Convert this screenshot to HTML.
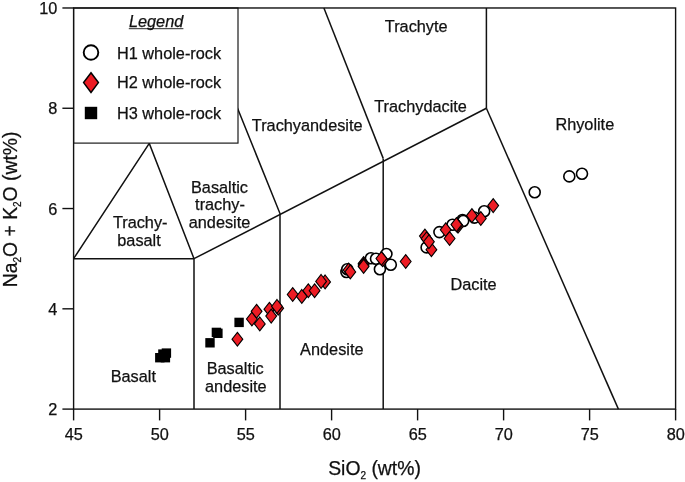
<!DOCTYPE html>
<html><head><meta charset="utf-8"><title>TAS diagram</title>
<style>
html,body{margin:0;padding:0;background:#fff}
svg{display:block}
.t{font-family:"Liberation Sans",Arial,sans-serif;font-size:16.3px;fill:#111;stroke:#111;stroke-width:0.25px}
.ax{font-family:"Liberation Sans",Arial,sans-serif;font-size:19.38px;fill:#111;stroke:#111;stroke-width:0.25px}
.sub{font-size:10px}
</style></head><body>
<svg width="685" height="482" viewBox="0 0 685 482">
<rect width="685" height="482" fill="#fff"/>
<path d="M73.60,258.68 L194.00,258.68 L194.00,409.10" fill="none" stroke="#111" stroke-width="1.5" stroke-linejoin="miter"/>
<path d="M73.60,258.68 L149.28,143.36 L194.00,258.68" fill="none" stroke="#111" stroke-width="1.5" stroke-linejoin="miter"/>
<path d="M194.00,258.68 L486.40,108.26" fill="none" stroke="#111" stroke-width="1.5" stroke-linejoin="miter"/>
<path d="M280.00,409.10 L280.00,213.55 L211.20,43.08" fill="none" stroke="#111" stroke-width="1.5" stroke-linejoin="miter"/>
<path d="M383.20,409.10 L383.20,158.40" fill="none" stroke="#111" stroke-width="1.5" stroke-linejoin="miter"/>
<path d="M383.20,158.40 L323.90,7.98" fill="none" stroke="#111" stroke-width="1.5" stroke-linejoin="miter"/>
<path d="M486.40,7.98 L486.40,108.26" fill="none" stroke="#111" stroke-width="1.5" stroke-linejoin="miter"/>
<path d="M486.40,108.26 L618.40,409.10" fill="none" stroke="#111" stroke-width="1.5" stroke-linejoin="miter"/>
<rect x="73.60" y="8" width="164.40" height="135.10" fill="#fff" stroke="#111" stroke-width="1.15"/>
<rect x="73.60" y="7.98" width="602.00" height="401.12" fill="none" stroke="#111" stroke-width="1.4"/>
<path d="M73.60,409.10 V420.40" stroke="#111" stroke-width="1.4"/>
<text x="73.70" y="439.9" text-anchor="middle" class="t">45</text>
<path d="M159.60,409.10 V420.40" stroke="#111" stroke-width="1.4"/>
<text x="159.70" y="439.9" text-anchor="middle" class="t">50</text>
<path d="M245.60,409.10 V420.40" stroke="#111" stroke-width="1.4"/>
<text x="245.70" y="439.9" text-anchor="middle" class="t">55</text>
<path d="M331.60,409.10 V420.40" stroke="#111" stroke-width="1.4"/>
<text x="331.70" y="439.9" text-anchor="middle" class="t">60</text>
<path d="M417.60,409.10 V420.40" stroke="#111" stroke-width="1.4"/>
<text x="417.70" y="439.9" text-anchor="middle" class="t">65</text>
<path d="M503.60,409.10 V420.40" stroke="#111" stroke-width="1.4"/>
<text x="503.70" y="439.9" text-anchor="middle" class="t">70</text>
<path d="M589.60,409.10 V420.40" stroke="#111" stroke-width="1.4"/>
<text x="589.70" y="439.9" text-anchor="middle" class="t">75</text>
<path d="M675.60,409.10 V420.40" stroke="#111" stroke-width="1.4"/>
<text x="675.70" y="439.9" text-anchor="middle" class="t">80</text>
<path d="M73.60,409.10 H62.40" stroke="#111" stroke-width="1.4"/>
<text x="57.3" y="415.25" text-anchor="end" class="t">2</text>
<path d="M73.60,308.82 H62.40" stroke="#111" stroke-width="1.4"/>
<text x="57.3" y="314.97" text-anchor="end" class="t">4</text>
<path d="M73.60,208.54 H62.40" stroke="#111" stroke-width="1.4"/>
<text x="57.3" y="214.69" text-anchor="end" class="t">6</text>
<path d="M73.60,108.26 H62.40" stroke="#111" stroke-width="1.4"/>
<text x="57.3" y="114.41" text-anchor="end" class="t">8</text>
<path d="M73.60,7.98 H62.40" stroke="#111" stroke-width="1.4"/>
<text x="57.3" y="14.13" text-anchor="end" class="t">10</text>
<text x="416.20" y="32.20" text-anchor="middle" class="t">Trachyte</text>
<text x="420.60" y="111.70" text-anchor="middle" class="t">Trachydacite</text>
<text x="307.20" y="130.70" text-anchor="middle" class="t">Trachyandesite</text>
<text x="584.80" y="129.80" text-anchor="middle" class="t">Rhyolite</text>
<text x="473.60" y="289.60" text-anchor="middle" class="t">Dacite</text>
<text x="331.80" y="355.10" text-anchor="middle" class="t">Andesite</text>
<text x="133.30" y="382.10" text-anchor="middle" class="t">Basalt</text>
<text x="235.20" y="374.40" text-anchor="middle" class="t">Basaltic</text>
<text x="235.80" y="391.90" text-anchor="middle" class="t">andesite</text>
<text x="140.20" y="228.20" text-anchor="middle" class="t">Trachy-</text>
<text x="139.00" y="245.70" text-anchor="middle" class="t">basalt</text>
<text x="219.50" y="192.90" text-anchor="middle" class="t">Basaltic</text>
<text x="220.00" y="210.00" text-anchor="middle" class="t">trachy-</text>
<text x="219.50" y="227.50" text-anchor="middle" class="t">andesite</text>
<text x="156.1" y="26.7" text-anchor="middle" class="t" font-style="italic">Legend</text>
<path d="M128.8,28.7 H183.4" stroke="#111" stroke-width="0.9"/>
<text x="117.00" y="58.50" text-anchor="start" class="t">H1 whole-rock</text>
<text x="117.00" y="88.00" text-anchor="start" class="t">H2 whole-rock</text>
<text x="117.00" y="118.50" text-anchor="start" class="t">H3 whole-rock</text>
<circle cx="91.0" cy="52.5" r="7.3" fill="#fff" stroke="#000" stroke-width="1.9"/>
<path d="M91.0,72.7 L98.4,82.6 L91.0,92.5 L83.6,82.6 Z" fill="#ed1c24" stroke="#000" stroke-width="1.5" stroke-linejoin="miter"/>
<rect x="84.8" y="106.8" width="12.4" height="12.4" fill="#000"/>
<text x="328.2" y="475.0" class="ax">SiO<tspan class="sub" dy="4.4">2</tspan><tspan dy="-4.4"> (wt%)</tspan></text>
<text transform="translate(17,287.3) rotate(-90)" class="ax">Na<tspan class="sub" dy="4.4">2</tspan><tspan dy="-4.4">O + K</tspan><tspan class="sub" dy="4.4">2</tspan><tspan dy="-4.4">O (wt%)</tspan></text>
<rect x="155.1" y="353.0" width="9.4" height="9.4" fill="#000"/>
<rect x="160.7" y="353.0" width="9.4" height="9.4" fill="#000"/>
<rect x="158.2" y="349.4" width="9.4" height="9.4" fill="#000"/>
<rect x="161.7" y="348.4" width="9.4" height="9.4" fill="#000"/>
<rect x="205.3" y="338.1" width="9.4" height="9.4" fill="#000"/>
<rect x="211.7" y="327.7" width="9.4" height="9.4" fill="#000"/>
<rect x="213.2" y="328.6" width="9.4" height="9.4" fill="#000"/>
<rect x="234.4" y="317.7" width="9.4" height="9.4" fill="#000"/>
<circle cx="346.4" cy="272.0" r="5.5" fill="#fff" stroke="#000" stroke-width="1.6"/>
<circle cx="347.3" cy="269.3" r="5.5" fill="#fff" stroke="#000" stroke-width="1.6"/>
<circle cx="370.9" cy="258.3" r="5.5" fill="#fff" stroke="#000" stroke-width="1.6"/>
<circle cx="376.0" cy="258.8" r="5.5" fill="#fff" stroke="#000" stroke-width="1.6"/>
<circle cx="386.4" cy="254.0" r="5.5" fill="#fff" stroke="#000" stroke-width="1.6"/>
<circle cx="379.9" cy="269.2" r="5.5" fill="#fff" stroke="#000" stroke-width="1.6"/>
<circle cx="390.8" cy="264.8" r="5.5" fill="#fff" stroke="#000" stroke-width="1.6"/>
<circle cx="426.6" cy="247.4" r="5.5" fill="#fff" stroke="#000" stroke-width="1.6"/>
<circle cx="439.4" cy="232.1" r="5.5" fill="#fff" stroke="#000" stroke-width="1.6"/>
<circle cx="452.5" cy="224.8" r="5.5" fill="#fff" stroke="#000" stroke-width="1.6"/>
<circle cx="462.5" cy="220.0" r="5.5" fill="#fff" stroke="#000" stroke-width="1.6"/>
<circle cx="463.2" cy="221.0" r="5.5" fill="#fff" stroke="#000" stroke-width="1.6"/>
<circle cx="474.4" cy="217.6" r="5.5" fill="#fff" stroke="#000" stroke-width="1.6"/>
<circle cx="484.2" cy="211.2" r="5.5" fill="#fff" stroke="#000" stroke-width="1.6"/>
<circle cx="534.7" cy="192.2" r="5.5" fill="#fff" stroke="#000" stroke-width="1.6"/>
<circle cx="569.3" cy="176.4" r="5.5" fill="#fff" stroke="#000" stroke-width="1.6"/>
<circle cx="582.0" cy="173.8" r="5.5" fill="#fff" stroke="#000" stroke-width="1.6"/>
<path d="M237.4,332.3 L242.8,339.2 L237.4,346.1 L232.0,339.2 Z" fill="#ed1c24" stroke="#000" stroke-width="1.1" stroke-linejoin="miter"/>
<path d="M251.9,312.1 L257.3,319.0 L251.9,325.9 L246.5,319.0 Z" fill="#ed1c24" stroke="#000" stroke-width="1.1" stroke-linejoin="miter"/>
<path d="M259.8,317.0 L265.2,323.9 L259.8,330.8 L254.4,323.9 Z" fill="#ed1c24" stroke="#000" stroke-width="1.1" stroke-linejoin="miter"/>
<path d="M256.6,304.4 L262.0,311.3 L256.6,318.2 L251.2,311.3 Z" fill="#ed1c24" stroke="#000" stroke-width="1.1" stroke-linejoin="miter"/>
<path d="M269.4,302.3 L274.8,309.2 L269.4,316.1 L264.0,309.2 Z" fill="#ed1c24" stroke="#000" stroke-width="1.1" stroke-linejoin="miter"/>
<path d="M271.2,309.2 L276.6,316.1 L271.2,323.0 L265.8,316.1 Z" fill="#ed1c24" stroke="#000" stroke-width="1.1" stroke-linejoin="miter"/>
<path d="M278.2,301.3 L283.6,308.2 L278.2,315.1 L272.8,308.2 Z" fill="#ed1c24" stroke="#000" stroke-width="1.1" stroke-linejoin="miter"/>
<path d="M277.0,299.5 L282.4,306.4 L277.0,313.3 L271.6,306.4 Z" fill="#ed1c24" stroke="#000" stroke-width="1.1" stroke-linejoin="miter"/>
<path d="M292.7,287.6 L298.1,294.5 L292.7,301.4 L287.3,294.5 Z" fill="#ed1c24" stroke="#000" stroke-width="1.1" stroke-linejoin="miter"/>
<path d="M301.8,289.5 L307.2,296.4 L301.8,303.3 L296.4,296.4 Z" fill="#ed1c24" stroke="#000" stroke-width="1.1" stroke-linejoin="miter"/>
<path d="M308.3,283.8 L313.7,290.7 L308.3,297.6 L302.9,290.7 Z" fill="#ed1c24" stroke="#000" stroke-width="1.1" stroke-linejoin="miter"/>
<path d="M314.6,283.8 L320.0,290.7 L314.6,297.6 L309.2,290.7 Z" fill="#ed1c24" stroke="#000" stroke-width="1.1" stroke-linejoin="miter"/>
<path d="M325.1,275.0 L330.5,281.9 L325.1,288.8 L319.7,281.9 Z" fill="#ed1c24" stroke="#000" stroke-width="1.1" stroke-linejoin="miter"/>
<path d="M321.1,274.5 L326.5,281.4 L321.1,288.3 L315.7,281.4 Z" fill="#ed1c24" stroke="#000" stroke-width="1.1" stroke-linejoin="miter"/>
<path d="M348.6,263.1 L354.0,270.0 L348.6,276.9 L343.2,270.0 Z" fill="#ed1c24" stroke="#000" stroke-width="1.1" stroke-linejoin="miter"/>
<path d="M350.3,265.0 L355.7,271.9 L350.3,278.8 L344.9,271.9 Z" fill="#ed1c24" stroke="#000" stroke-width="1.1" stroke-linejoin="miter"/>
<path d="M363.6,256.7 L369.0,263.6 L363.6,270.5 L358.2,263.6 Z" fill="#ed1c24" stroke="#000" stroke-width="1.1" stroke-linejoin="miter"/>
<path d="M363.6,258.1 L369.0,265.0 L363.6,271.9 L358.2,265.0 Z" fill="#ed1c24" stroke="#000" stroke-width="1.1" stroke-linejoin="miter"/>
<path d="M363.6,259.5 L369.0,266.4 L363.6,273.3 L358.2,266.4 Z" fill="#ed1c24" stroke="#000" stroke-width="1.1" stroke-linejoin="miter"/>
<path d="M382.6,252.9 L388.0,259.8 L382.6,266.7 L377.2,259.8 Z" fill="#ed1c24" stroke="#000" stroke-width="1.1" stroke-linejoin="miter"/>
<path d="M381.4,251.6 L386.8,258.5 L381.4,265.4 L376.0,258.5 Z" fill="#ed1c24" stroke="#000" stroke-width="1.1" stroke-linejoin="miter"/>
<path d="M405.7,254.6 L411.1,261.5 L405.7,268.4 L400.3,261.5 Z" fill="#ed1c24" stroke="#000" stroke-width="1.1" stroke-linejoin="miter"/>
<path d="M431.4,242.8 L436.8,249.7 L431.4,256.6 L426.0,249.7 Z" fill="#ed1c24" stroke="#000" stroke-width="1.1" stroke-linejoin="miter"/>
<path d="M424.9,229.2 L430.3,236.1 L424.9,243.0 L419.5,236.1 Z" fill="#ed1c24" stroke="#000" stroke-width="1.1" stroke-linejoin="miter"/>
<path d="M426.6,231.8 L432.0,238.7 L426.6,245.6 L421.2,238.7 Z" fill="#ed1c24" stroke="#000" stroke-width="1.1" stroke-linejoin="miter"/>
<path d="M428.9,234.8 L434.3,241.7 L428.9,248.6 L423.5,241.7 Z" fill="#ed1c24" stroke="#000" stroke-width="1.1" stroke-linejoin="miter"/>
<path d="M445.7,222.9 L451.1,229.8 L445.7,236.7 L440.3,229.8 Z" fill="#ed1c24" stroke="#000" stroke-width="1.1" stroke-linejoin="miter"/>
<path d="M449.6,231.6 L455.0,238.5 L449.6,245.4 L444.2,238.5 Z" fill="#ed1c24" stroke="#000" stroke-width="1.1" stroke-linejoin="miter"/>
<path d="M458.0,219.3 L463.4,226.2 L458.0,233.1 L452.6,226.2 Z" fill="#ed1c24" stroke="#000" stroke-width="1.1" stroke-linejoin="miter"/>
<path d="M457.2,218.4 L462.6,225.3 L457.2,232.2 L451.8,225.3 Z" fill="#ed1c24" stroke="#000" stroke-width="1.1" stroke-linejoin="miter"/>
<path d="M456.4,217.7 L461.8,224.6 L456.4,231.5 L451.0,224.6 Z" fill="#ed1c24" stroke="#000" stroke-width="1.1" stroke-linejoin="miter"/>
<path d="M471.9,208.7 L477.3,215.6 L471.9,222.5 L466.5,215.6 Z" fill="#ed1c24" stroke="#000" stroke-width="1.1" stroke-linejoin="miter"/>
<path d="M480.8,211.6 L486.2,218.5 L480.8,225.4 L475.4,218.5 Z" fill="#ed1c24" stroke="#000" stroke-width="1.1" stroke-linejoin="miter"/>
<path d="M493.2,198.7 L498.6,205.6 L493.2,212.5 L487.8,205.6 Z" fill="#ed1c24" stroke="#000" stroke-width="1.1" stroke-linejoin="miter"/>
</svg>
</body></html>
